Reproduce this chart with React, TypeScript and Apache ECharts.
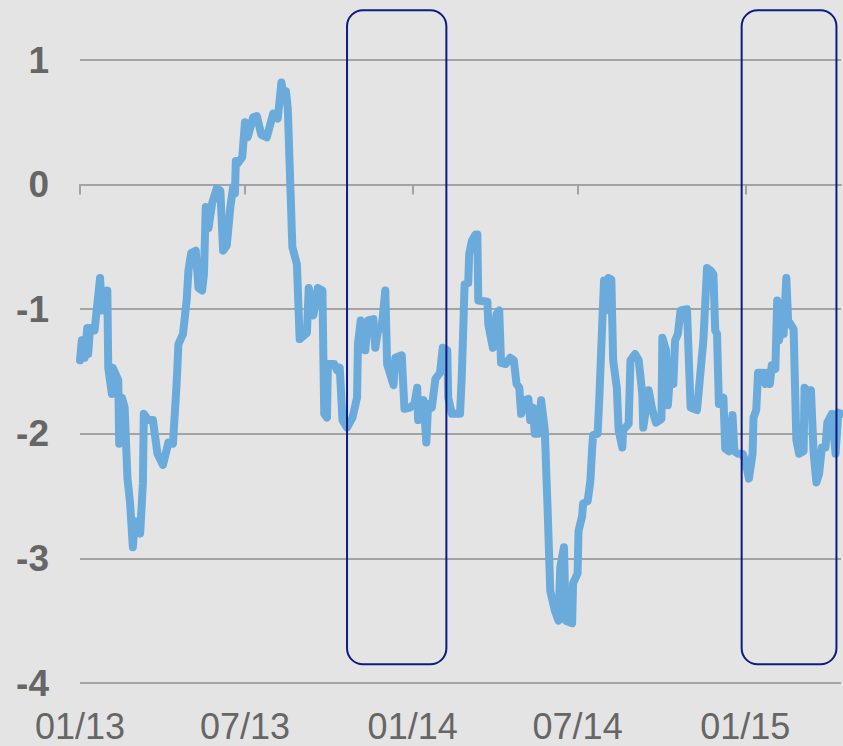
import React, { useEffect, useRef } from "react";
import * as echarts from "echarts";

const dates = [
  "2013-01-01","2013-01-03","2013-01-06","2013-01-09","2013-01-10","2013-01-12","2013-01-17","2013-01-23","2013-01-25","2013-01-31",
  "2013-02-01","2013-02-05","2013-02-06","2013-02-12","2013-02-13","2013-02-16","2013-02-19","2013-02-22","2013-02-25","2013-02-28",
  "2013-03-02","2013-03-08","2013-03-11","2013-03-12","2013-03-17","2013-03-22","2013-03-27","2013-04-02","2013-04-08","2013-04-13",
  "2013-04-17","2013-04-19","2013-04-24","2013-04-28","2013-04-30","2013-05-03","2013-05-08","2013-05-11","2013-05-15","2013-05-17",
  "2013-05-19","2013-05-22","2013-05-26","2013-05-31","2013-06-04","2013-06-07","2013-06-11","2013-06-15","2013-06-18","2013-06-20",
  "2013-06-21","2013-06-23","2013-06-28","2013-07-01","2013-07-04","2013-07-10","2013-07-14","2013-07-19","2013-07-25","2013-08-01",
  "2013-08-06","2013-08-10","2013-08-12","2013-08-15","2013-08-17","2013-08-22","2013-08-27","2013-08-30","2013-09-07","2013-09-09",
  "2013-09-14","2013-09-19","2013-09-24","2013-09-25","2013-09-26","2013-09-29","2013-09-30","2013-10-07","2013-10-10","2013-10-13",
  "2013-10-16","2013-10-21","2013-10-27","2013-11-01","2013-11-02","2013-11-05","2013-11-10","2013-11-13","2013-11-19","2013-11-21",
  "2013-11-24","2013-11-28","2013-12-02","2013-12-04","2013-12-11","2013-12-13","2013-12-20","2013-12-23","2013-12-29","2014-01-03",
  "2014-01-06","2014-01-07","2014-01-13","2014-01-16","2014-01-18","2014-01-22","2014-01-26","2014-01-31","2014-02-03","2014-02-08",
  "2014-02-09","2014-02-13","2014-02-19","2014-02-22","2014-02-24","2014-02-27","2014-03-03","2014-03-04","2014-03-07","2014-03-11",
  "2014-03-13","2014-03-14","2014-03-24","2014-03-25","2014-03-30","2014-04-03","2014-04-06","2014-04-08","2014-04-13","2014-04-18",
  "2014-04-22","2014-04-25","2014-04-28","2014-04-30","2014-05-04","2014-05-08","2014-05-10","2014-05-13","2014-05-15","2014-05-19",
  "2014-05-22","2014-05-26","2014-05-29","2014-06-01","2014-06-06","2014-06-10","2014-06-12","2014-06-16","2014-06-18","2014-06-25",
  "2014-06-26","2014-07-01","2014-07-02","2014-07-06","2014-07-07","2014-07-12","2014-07-15","2014-07-17","2014-07-18","2014-07-23",
  "2014-07-25","2014-07-28","2014-07-30","2014-08-01","2014-08-04","2014-08-07","2014-08-09","2014-08-13","2014-08-15","2014-08-19",
  "2014-08-20","2014-08-26","2014-08-28","2014-09-02","2014-09-06","2014-09-10","2014-09-11","2014-09-17","2014-09-21","2014-09-25",
  "2014-10-01","2014-10-02","2014-10-06","2014-10-08","2014-10-11","2014-10-14","2014-10-16","2014-10-19","2014-10-22","2014-10-29",
  "2014-11-02","2014-11-09","2014-11-16","2014-11-20","2014-11-24","2014-11-27","2014-11-29","2014-12-01","2014-12-03","2014-12-08",
  "2014-12-10","2014-12-14","2014-12-18","2014-12-20","2014-12-24","2014-12-29","2015-01-01","2015-01-05","2015-01-09","2015-01-10",
  "2015-01-13","2015-01-15","2015-01-21","2015-01-23","2015-01-25","2015-01-28","2015-01-30","2015-02-03","2015-02-05","2015-02-07",
  "2015-02-11","2015-02-12","2015-02-15","2015-02-17","2015-02-23","2015-02-26","2015-03-01","2015-03-06","2015-03-07","2015-03-11",
  "2015-03-14","2015-03-17","2015-03-20","2015-03-23","2015-03-26","2015-03-30","2015-04-01","2015-04-06","2015-04-10","2015-04-13",
  "2015-04-16",
];

const values = [
  -1.41,-1.25,-1.39,-1.15,-1.36,-1.15,-1.17,-0.75,-1.01,-0.85,
  -1.47,-1.68,-1.47,-1.57,-2.08,-1.71,-1.79,-2.35,-2.56,-2.91,
  -2.70,-2.80,-2.40,-1.84,-1.89,-1.89,-2.16,-2.25,-2.07,-2.08,
  -1.60,-1.28,-1.20,-0.93,-0.69,-0.55,-0.53,-0.83,-0.85,-0.72,
  -0.18,-0.35,-0.15,-0.03,-0.05,-0.53,-0.49,-0.18,-0.02,-0.07,
  0.19,0.17,0.22,0.50,0.38,0.54,0.55,0.40,0.38,0.57,
  0.53,0.82,0.73,0.75,0.61,-0.50,-0.64,-1.24,-1.19,-0.83,
  -1.05,-0.83,-0.85,-1.36,-1.84,-1.87,-1.44,-1.44,-1.49,-1.47,
  -1.89,-1.95,-1.87,-1.71,-1.28,-1.09,-1.33,-1.09,-1.08,-1.31,
  -1.17,-1.15,-0.85,-1.44,-1.61,-1.39,-1.37,-1.80,-1.79,-1.76,
  -1.63,-1.89,-1.73,-2.07,-1.76,-1.79,-1.56,-1.51,-1.31,-1.33,
  -1.71,-1.84,-1.84,-1.84,-1.52,-0.80,-0.79,-0.56,-0.45,-0.40,
  -0.40,-0.93,-0.94,-1.12,-1.31,-1.04,-1.01,-1.43,-1.44,-1.39,
  -1.41,-1.60,-1.63,-1.84,-1.73,-1.72,-1.89,-1.79,-2.00,-2.00,
  -1.73,-1.97,-2.59,-3.26,-3.42,-3.50,-3.07,-2.91,-3.50,-3.52,
  -3.20,-3.12,-2.78,-2.66,-2.56,-2.54,-2.38,-2.11,-2.01,-2.00,
  -1.68,-1.12,-0.77,-1.01,-0.75,-0.76,-1.41,-1.63,-1.97,-2.11,
  -1.97,-1.92,-1.41,-1.36,-1.41,-1.68,-1.95,-1.65,-1.81,-1.91,
  -1.88,-1.23,-1.33,-1.77,-1.47,-1.60,-1.25,-1.20,-1.01,-1.00,
  -1.79,-1.81,-1.25,-0.67,-0.69,-0.72,-1.17,-1.20,-1.76,-1.71,
  -2.12,-2.14,-1.85,-2.14,-2.16,-2.16,-2.22,-2.36,-2.16,-1.87,
  -1.81,-1.51,-1.51,-1.60,-1.51,-1.60,-1.45,-1.48,-0.93,-1.25,
  -1.07,-1.20,-0.75,-1.09,-1.16,-2.05,-2.16,-2.14,-1.63,-1.67,
  -1.65,-2.16,-2.39,-2.32,-2.11,-2.11,-1.91,-1.84,-2.16,-1.83,
  -1.84,
];

const tickDates = ["2013-01-01", "2013-07-01", "2014-01-01", "2014-07-01", "2015-01-01"];
const tickLabels = ["01/13", "07/13", "01/14", "07/14", "01/15"];

const axisStart = "2013-01-01";
const axisEnd = "2015-04-16";
const yMin = -4;
const yMax = 1;

// highlighted periods (rounded boxes)
const boxStarts = ["2013-10-21", "2014-12-28"];
const boxEnds = ["2014-02-07", "2015-04-11"];
const boxTop = 1.4;
const boxBottom = -3.85;

function ts(s: string): number {
  const [y, m, d] = s.split("-").map(Number);
  return Date.UTC(y, m - 1, d);
}

export default function App() {
  const ref = useRef<HTMLDivElement>(null);

  useEffect(() => {
    if (!ref.current) return;
    const chart = echarts.init(ref.current, null, { renderer: "svg" });
    const tickTs = tickDates.map(ts);
    const font = "'Liberation Sans', Arial, sans-serif";
    const grey = "#a3a3a3";

    chart.setOption({
      animation: false,
      backgroundColor: "#e4e4e4",
      grid: { left: 80, right: 2, top: 60, bottom: 63, containLabel: false, outerBoundsMode: "none" },
      xAxis: {
        type: "value",
        min: ts(axisStart),
        max: ts(axisEnd),
        axisLine: { show: true, onZero: true, lineStyle: { color: grey, width: 2 } },
        axisTick: {
          show: true,
          customValues: tickTs,
          length: 10,
          lineStyle: { color: grey, width: 2 },
        },
        axisLabel: {
          customValues: tickTs,
          formatter: (v: number) => {
            const i = tickTs.indexOf(v);
            return i >= 0 ? tickLabels[i] : "";
          },
          margin: 25,
          fontSize: 36,
          color: "#666666",
          fontFamily: font,
        },
        splitLine: { show: false },
      },
      yAxis: {
        type: "value",
        min: yMin,
        max: yMax,
        interval: 1,
        axisLine: { show: false },
        axisTick: { show: false },
        axisLabel: {
          fontSize: 37,
          fontWeight: "bold",
          color: "#666666",
          fontFamily: font,
          margin: 31,
        },
        splitLine: { show: true, lineStyle: { color: grey, width: 2 } },
      },
      series: [
        {
          type: "line",
          data: dates.map((d, i) => [ts(d), values[i]]),
          showSymbol: false,
          symbol: "none",
          lineStyle: { color: "#6aabdc", width: 8, cap: "round", join: "round" },
          z: 3,
        },
      ],
    });

    const graphics = boxStarts.map((s, i) => {
      const p1 = chart.convertToPixel({ xAxisIndex: 0, yAxisIndex: 0 }, [ts(s), boxTop]) as number[];
      const p2 = chart.convertToPixel({ xAxisIndex: 0, yAxisIndex: 0 }, [ts(boxEnds[i]), boxBottom]) as number[];
      return {
        type: "rect",
        shape: { x: p1[0], y: p1[1], width: p2[0] - p1[0], height: p2[1] - p1[1], r: 16 },
        style: { fill: "none", stroke: "#0b1d83", lineWidth: 2 },
        z: 10,
      };
    });
    chart.setOption({ graphic: graphics });

    return () => chart.dispose();
  }, []);

  return (
    <div
      ref={ref}
      style={{ position: "fixed", left: 0, top: 0, width: 843, height: 746, background: "#e4e4e4" }}
    />
  );
}
